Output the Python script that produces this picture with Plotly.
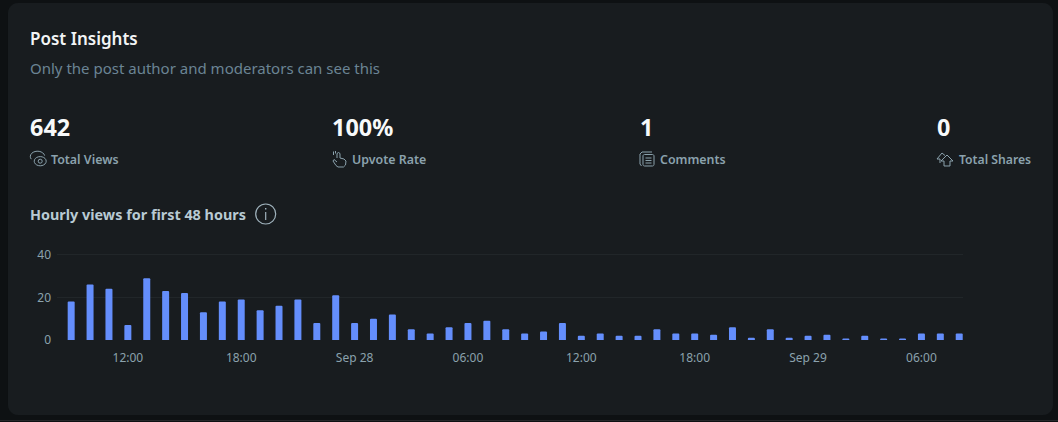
import math
import plotly.graph_objects as go

W, H = 1058, 422

# ---- data ----
hour_labels = [
    "2023-09-27 09:00", "2023-09-27 10:00", "2023-09-27 11:00", "2023-09-27 12:00",
    "2023-09-27 13:00", "2023-09-27 14:00", "2023-09-27 15:00", "2023-09-27 16:00",
    "2023-09-27 17:00", "2023-09-27 18:00", "2023-09-27 19:00", "2023-09-27 20:00",
    "2023-09-27 21:00", "2023-09-27 22:00", "2023-09-27 23:00", "2023-09-28 00:00",
    "2023-09-28 01:00", "2023-09-28 02:00", "2023-09-28 03:00", "2023-09-28 04:00",
    "2023-09-28 05:00", "2023-09-28 06:00", "2023-09-28 07:00", "2023-09-28 08:00",
    "2023-09-28 09:00", "2023-09-28 10:00", "2023-09-28 11:00", "2023-09-28 12:00",
    "2023-09-28 13:00", "2023-09-28 14:00", "2023-09-28 15:00", "2023-09-28 16:00",
    "2023-09-28 17:00", "2023-09-28 18:00", "2023-09-28 19:00", "2023-09-28 20:00",
    "2023-09-28 21:00", "2023-09-28 22:00", "2023-09-28 23:00", "2023-09-29 00:00",
    "2023-09-29 01:00", "2023-09-29 02:00", "2023-09-29 03:00", "2023-09-29 04:00",
    "2023-09-29 05:00", "2023-09-29 06:00", "2023-09-29 07:00", "2023-09-29 08:00",
]
views = [18, 26, 24, 7, 29, 23, 22, 13, 18, 19, 14, 16, 19, 8, 21, 8,
         10, 12, 5, 3, 6, 8, 9, 5, 3, 4, 8, 2, 3, 2, 2, 5,
         3, 3, 2.5, 6, 1, 5, 1, 2, 2.5, 0.6, 2, 0.6, 0.6, 3, 3, 3]
tick_vals = ["2023-09-27 12:00", "2023-09-27 18:00", "2023-09-28 00:00", "2023-09-28 06:00",
             "2023-09-28 12:00", "2023-09-28 18:00", "2023-09-29 00:00", "2023-09-29 06:00"]
tick_text = ["12:00", "18:00", "Sep 28", "06:00", "12:00", "18:00", "Sep 29", "06:00"]
y_ticks = [0, 20, 40]

stat_values = ["642", "100%", "1", "0"]
stat_labels = ["Total Views", "Upvote Rate", "Comments", "Total Shares"]

# ---- colours ----
PAGE = "#0e1113"
CARD = "#181c1f"
BAR = "#648efc"
GRID = "#212629"
MUTED = "#8ba2ad"
SUB = "#6b8494"
HEAD = "#b8cad3"
ICON = "#8ba2ad"
FONT = "Noto Sans"


def px(x):
    return x / W


def py(y):
    return 1 - y / H


def path(cmds):
    out = []
    for c in cmds:
        if c == "Z":
            out.append("Z")
        else:
            out.append(f"{c[0]} {px(c[1]):.5f} {py(c[2]):.5f}")
    return " ".join(out)


def poly(points, closed=False):
    s = [("M", *points[0])] + [("L", *p) for p in points[1:]]
    if closed:
        s.append("Z")
    return path(s)


def ring(cx, cy, r, color=ICON, w=1):
    return dict(type="circle", xref="paper", yref="paper", x0=px(cx - r), x1=px(cx + r),
                y0=py(cy + r), y1=py(cy - r), line=dict(color=color, width=w))


def stroke(d, color=ICON, w=1):
    return dict(type="path", xref="paper", yref="paper", path=d, line=dict(color=color, width=w))


def rounded(x0, y0, x1, y1, r):
    pts = []
    for cx, cy, a0 in ((x1 - r, y0 + r, -90), (x1 - r, y1 - r, 0), (x0 + r, y1 - r, 90), (x0 + r, y0 + r, 180)):
        for k in range(7):
            a = math.radians(a0 + k * 15)
            pts.append((cx + r * math.cos(a), cy + r * math.sin(a)))
    return poly(pts, closed=True)


def arc(cx, cy, rx, ry, a0, a1, n=12):
    return [(cx + rx * math.cos(math.radians(a0 + (a1 - a0) * i / n)),
             cy + ry * math.sin(math.radians(a0 + (a1 - a0) * i / n))) for i in range(n + 1)]


shapes = [
    dict(type="path", xref="paper", yref="paper", path=rounded(8, 3, 1053, 415, 10),
         fillcolor=CARD, line=dict(width=0), layer="below"),
    dict(type="rect", xref="paper", yref="paper", x0=0, x1=1, y0=py(421), y1=py(420),
         fillcolor="#26282a", line=dict(width=0), layer="below"),
]

# eye icon
shapes += [
    stroke(poly(arc(37.5, 156.5, 7.2, 5.3, 150, 350))),
    stroke(poly(arc(40.2, 161.2, 6, 4.6, 0, 360, 20))),
    ring(40.2, 161.2, 2),
]
# hand icon
shapes += [
    stroke(poly([(337, 158), (337, 153.5), (338.5, 152.5), (340, 153.5), (340, 158), (344, 159),
                 (346, 161), (345.5, 165), (343.5, 167), (338, 167), (336, 165.5), (333, 161),
                 (334, 159.5), (337, 162)])),
    stroke(poly([(333.5, 151.5), (333.5, 155)])),
    stroke(poly([(335.5, 151), (335.5, 153.5)])),
]
# comments icon
shapes += [
    stroke(poly([(652, 152), (642, 152), (640, 154), (640, 164), (641.5, 166)])),
    stroke(rounded(643, 154.5, 654, 166, 1.5)),
    stroke(poly([(645.5, 158), (651.5, 158)])),
    stroke(poly([(645.5, 160.5), (651.5, 160.5)])),
    stroke(poly([(645.5, 163), (651.5, 163)])),
]
# share icon
shapes += [
    stroke(poly([(945, 155.5), (942, 153), (937, 159), (940, 159), (940, 163)])),
    stroke(poly([(947, 155), (953, 161), (950, 161), (950, 166), (944, 166), (944, 161), (941, 161)], True)),
]
# info icon
shapes += [
    ring(265.7, 214, 10, color="#9fb2bc", w=1.2),
    stroke(poly([(265.7, 212), (265.7, 220)]), color="#9fb2bc", w=1.2),
    stroke(poly([(265.7, 208), (265.7, 209.5)]), color="#9fb2bc", w=1.4),
]


def note(x, y, text, size, color, weight=400):
    return dict(xref="paper", yref="paper", x=px(x), y=py(y), text=text, showarrow=False,
                xanchor="left", yanchor="middle", borderpad=0, borderwidth=0, align="left",
                font=dict(family=FONT, size=size, color=color, weight=weight))


annotations = [
    note(30, 38, "Post Insights", 17, "#f2f4f5", 600),
    note(30, 68, "Only the post author and moderators can see this", 15, SUB),
    note(30, 127, stat_values[0], 23.4, "#f7f9fa", 700),
    note(332, 127, stat_values[1], 23.4, "#f7f9fa", 700),
    note(640, 127, stat_values[2], 23.4, "#f7f9fa", 700),
    note(937, 127, stat_values[3], 23.4, "#f7f9fa", 700),
    note(51, 159, stat_labels[0], 12.4, MUTED, 600),
    note(352, 159, stat_labels[1], 12.4, MUTED, 600),
    note(660, 159, stat_labels[2], 12.4, MUTED, 600),
    note(959, 159, stat_labels[3], 12.2, MUTED, 600),
    note(30, 214, "Hourly views for first 48 hours", 14.4, HEAD, 700),
]

fig = go.Figure(go.Bar(x=hour_labels, y=views, marker=dict(color=BAR, line=dict(width=0), cornerradius=1.5),
                       hovertemplate="%{x}<br>%{y}<extra></extra>"))

fig.update_layout(
    template=None,
    width=W, height=H, margin=dict(l=0, r=0, t=0, b=0, pad=0), autosize=False,
    paper_bgcolor=PAGE, plot_bgcolor="rgba(0,0,0,0)", bargap=0.63, showlegend=False,
    shapes=shapes, annotations=annotations,
    font=dict(family=FONT, color=MUTED, size=12),
    xaxis=dict(type="date", domain=[px(57), px(963)], automargin=False,
               range=["2023-09-27 08:15", "2023-09-29 08:12"],
               tickmode="array", tickvals=tick_vals, ticktext=tick_text,
               showgrid=False, zeroline=False, showline=False, ticks="", ticklen=0,
               tickfont=dict(family=FONT, size=12, color=MUTED), ticklabelstandoff=9, anchor="y"),
    yaxis=dict(domain=[py(340), py(253.6)], range=[0, 40.5], tickmode="array", tickvals=y_ticks,
               automargin=False, showgrid=True, gridcolor=GRID, gridwidth=1, zeroline=False, showline=False, ticks="",
               tickfont=dict(family=FONT, size=12, color=MUTED), ticklabelstandoff=5, anchor="x"),
)

fig.write_html(
    "out.html",
    config={"displayModeBar": False},
    post_script=f"document.body.style.margin='0';document.body.style.background='{PAGE}';document.body.style.overflow='hidden';",
)
